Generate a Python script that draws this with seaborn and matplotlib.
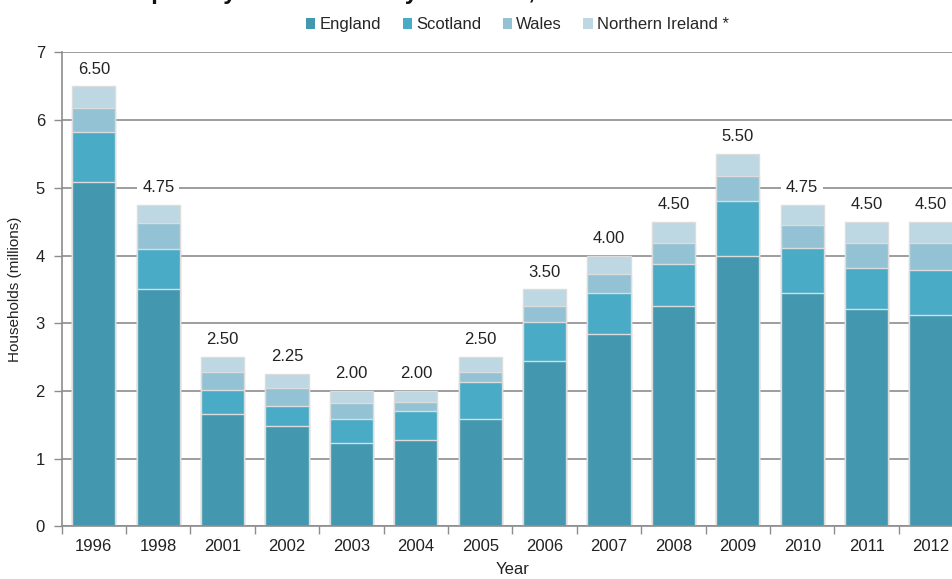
import matplotlib
matplotlib.use("Agg")
import matplotlib.pyplot as plt
from matplotlib.patches import Patch
from matplotlib.ticker import FixedLocator
import numpy as np
import pandas as pd
import seaborn as sns

# Households in fuel poverty (millions) by country
years = ["1996", "1998", "2001", "2002", "2003", "2004", "2005",
         "2006", "2007", "2008", "2009", "2010", "2011", "2012"]
england = [5.08, 3.50, 1.66, 1.49, 1.23, 1.28, 1.59, 2.44, 2.84, 3.26, 4.00, 3.45, 3.21, 3.12]
scotland = [0.74, 0.60, 0.36, 0.29, 0.36, 0.43, 0.54, 0.58, 0.61, 0.61, 0.81, 0.66, 0.61, 0.67]
wales = [0.36, 0.38, 0.26, 0.27, 0.24, 0.13, 0.15, 0.24, 0.28, 0.32, 0.36, 0.34, 0.37, 0.39]
northern_ireland = [0.32, 0.27, 0.22, 0.20, 0.17, 0.16, 0.22, 0.24, 0.27, 0.31, 0.33, 0.30, 0.31, 0.32]

series_names = ["England", "Scotland", "Wales", "Northern Ireland *"]
series_colors = ["#4397ae", "#4aabc6", "#93c2d4", "#bdd7e3"]

sns.set_theme(style="white")
plt.rcParams["font.family"] = ["Liberation Sans", "DejaVu Sans"]

df = pd.DataFrame({"Year": years, "England": england, "Scotland": scotland,
                   "Wales": wales, "Northern Ireland *": northern_ireland})
cum = df[series_names].cumsum(axis=1)
df["Total"] = cum[series_names[-1]]

fig = plt.figure(figsize=(9.53, 5.79), dpi=100)
ax = fig.add_axes([0.0647, 0.0907, 0.946, 0.8187])

# Layered cumulative bars give the stacked look: draw tallest first
for name, color in zip(series_names[::-1], series_colors[::-1]):
    sns.barplot(x=df["Year"], y=cum[name], color=color, width=0.67,
                edgecolor="#dcdcdc", linewidth=1.0, ax=ax, zorder=2,
                saturation=1)

ax.set_ylim(0, 7)
ax.set_xlim(-0.5, len(years) - 0.5)
ax.set_yticks(range(0, 8))
ax.yaxis.grid(True, color="#8c8c8c", linewidth=1.2, zorder=0)
ax.set_axisbelow(True)

for s in ["top", "right"]:
    ax.spines[s].set_visible(False)
for s in ["left", "bottom"]:
    ax.spines[s].set_color("#8c8c8c")
    ax.spines[s].set_linewidth(1.2)

ax.tick_params(axis="y", which="major", left=True, length=6, width=1.0,
               color="#8c8c8c", labelsize=12, pad=6, labelcolor="#222222")
ax.tick_params(axis="x", which="major", length=0, labelsize=12, pad=9,
               labelcolor="#222222")
ax.xaxis.set_minor_locator(FixedLocator(np.arange(-0.5, len(years), 1.0)))
ax.tick_params(axis="x", which="minor", bottom=True, length=6, width=1.0,
               color="#8c8c8c")

ax.set_xlabel("Year", fontsize=12, color="#222222", labelpad=6)
ax.set_ylabel("Households (millions)", fontsize=11, color="#222222", labelpad=10)

# Total labels above each bar
for i, total in enumerate(df["Total"]):
    ax.annotate(f"{total:.2f}", xy=(i, total), xytext=(0, 7.0),
                textcoords="offset points", ha="center", va="bottom",
                fontsize=12, color="#222222", zorder=4,
                bbox=dict(boxstyle="square,pad=0.3", fc="white", ec="none"))

handles = [Patch(facecolor=c, edgecolor="none") for c in series_colors]
fig.legend(handles, series_names, loc="center", bbox_to_anchor=(0.543, 0.957),
           ncol=4, frameon=False, fontsize=12, handlelength=0.55,
           handleheight=0.55, handletextpad=0.25, columnspacing=1.3)

# Chart heading sits at the very top edge
fig.text(0.0, 1.0 + 0.5 / 579, "Chart 1: Fuel poverty in each country in the UK, 1996-2012",
         ha="left", va="baseline", fontsize=17, fontweight="bold", color="#111111")

fig.savefig("out.png", dpi=100)
